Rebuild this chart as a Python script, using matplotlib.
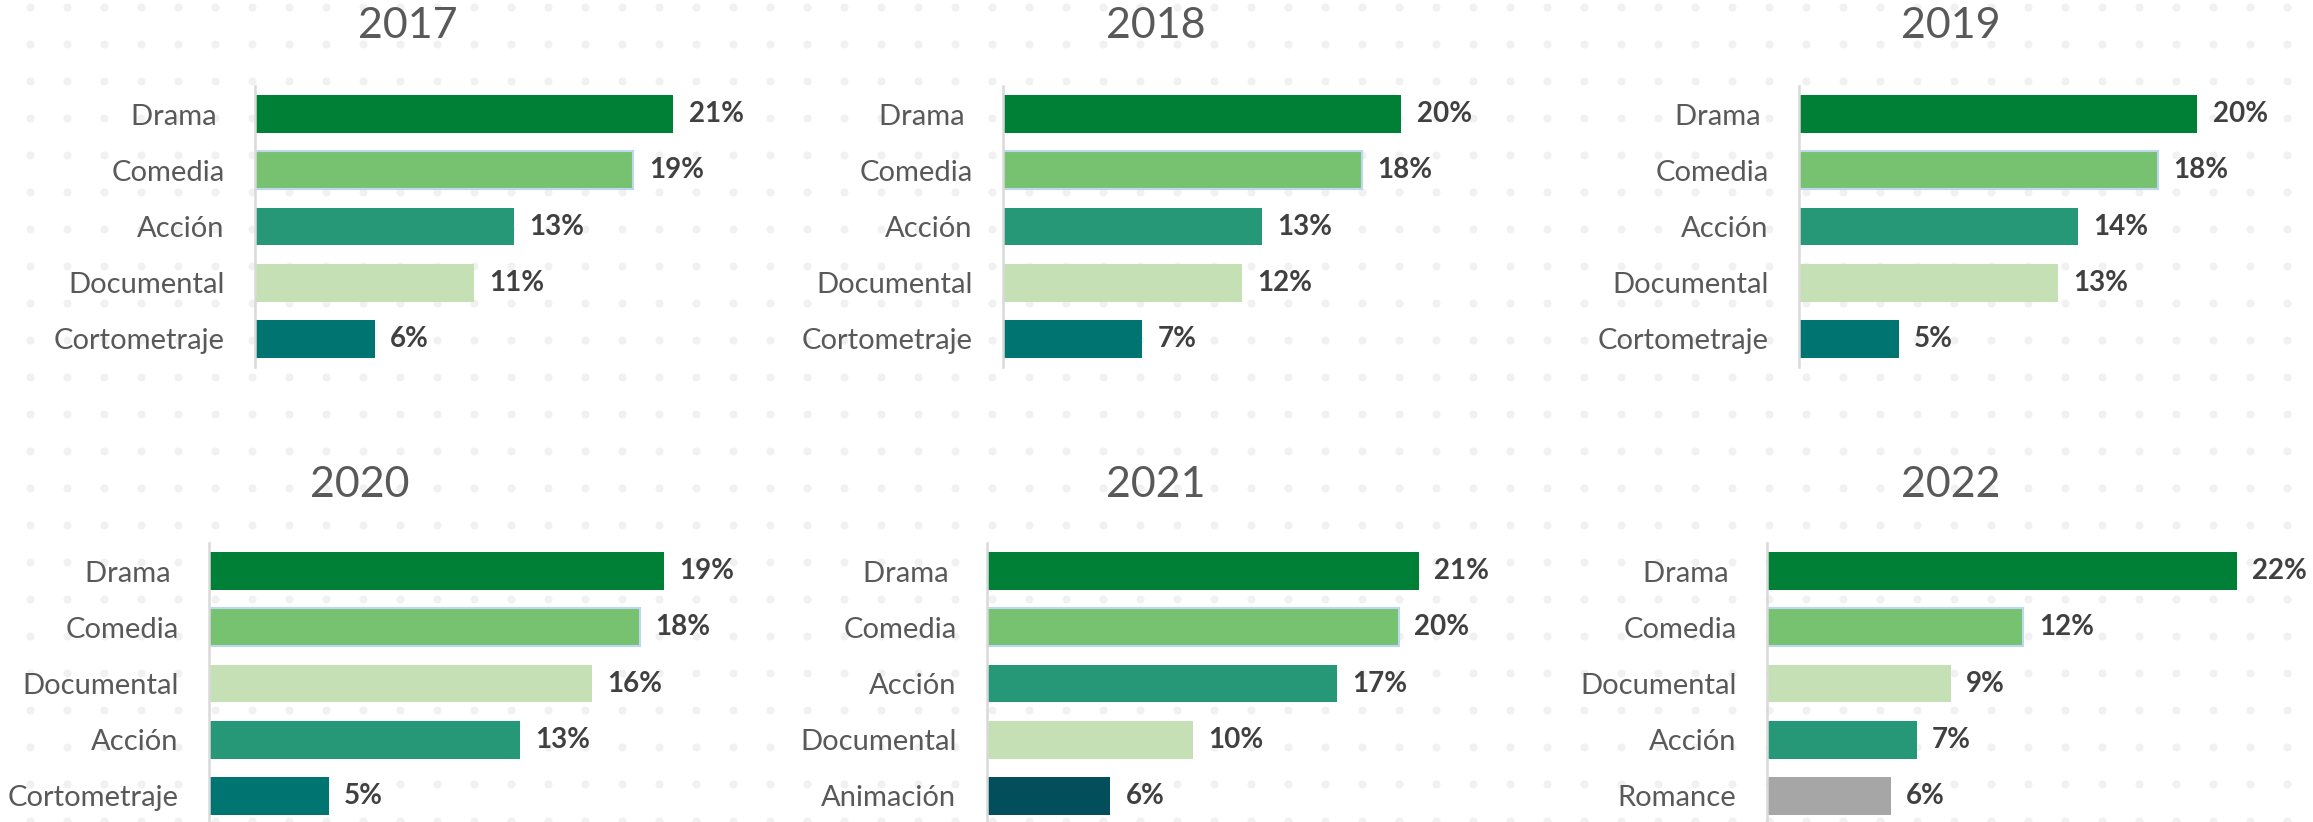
import matplotlib

matplotlib.use("Agg")
import matplotlib.pyplot as plt
import numpy as np

# Share of releases by genre, per year (percent).
YEARS = ["2017", "2018", "2019", "2020", "2021", "2022"]

CATS_2017 = ["Drama ", "Comedia", "Acción", "Documental", "Cortometraje"]
VALS_2017 = [21, 19, 13, 11, 6]

CATS_2018 = ["Drama ", "Comedia", "Acción", "Documental", "Cortometraje"]
VALS_2018 = [20, 18, 13, 12, 7]

CATS_2019 = ["Drama ", "Comedia", "Acción", "Documental", "Cortometraje"]
VALS_2019 = [20, 18, 14, 13, 5]

CATS_2020 = ["Drama ", "Comedia", "Documental", "Acción", "Cortometraje"]
VALS_2020 = [19, 18, 16, 13, 5]

CATS_2021 = ["Drama ", "Comedia", "Acción", "Documental", "Animación"]
VALS_2021 = [21, 20, 17, 10, 6]

CATS_2022 = ["Drama ", "Comedia", "Documental", "Acción", "Romance"]
VALS_2022 = [22, 12, 8.6, 7, 5.8]

GENRE_COLORS = {
    "Drama": "#007f37",
    "Comedia": "#77c270",
    "Acción": "#269878",
    "Documental": "#c5e0b4",
    "Cortometraje": "#007470",
    "Animación": "#024f5b",
    "Romance": "#a6a6a6",
}

# Panel layout in pixels: (axis x, axis top, x-axis max)
W, H = 2313, 822
PANEL_W = 500
LAYOUT = [
    (255, 86, 25.1), (1003, 86, 25.1), (1799, 86, 25.1),
    (209, 543, 20.9), (987, 543, 24.3), (1767, 543, 23.4),
]
TITLE_POS = [(408, 38), (1156, 38), (1951, 38), (360, 497), (1156, 497), (1951, 497)]
PANEL_H = 281

plt.rcParams["font.family"] = ["Lato", "DejaVu Sans"]

fig = plt.figure(figsize=(W / 100, H / 100), dpi=100)

# dotted background
bg = fig.add_axes([0, 0, 1, 1], zorder=-5)
bg.set_xlim(0, W)
bg.set_ylim(H, 0)
bg.axis("off")
gx, gy = np.meshgrid(np.arange(30, W, 37), np.arange(7, H, 37))
bg.scatter(gx.ravel(), gy.ravel(), s=34, color="#f1f1f1", linewidths=0)

panels = [
    (CATS_2017, VALS_2017), (CATS_2018, VALS_2018), (CATS_2019, VALS_2019),
    (CATS_2020, VALS_2020), (CATS_2021, VALS_2021), (CATS_2022, VALS_2022),
]

for year, (cats, vals), (x0, top, xmax), (tx, ty) in zip(YEARS, panels, LAYOUT, TITLE_POS):
    ax = fig.add_axes([x0 / W, 1 - (top + PANEL_H) / H, PANEL_W / W, PANEL_H / H])
    ax.patch.set_alpha(0)
    y = np.arange(len(cats))
    colors = [GENRE_COLORS[c.strip()] for c in cats]
    edges = ["#bdd7ee" if c.strip() == "Comedia" else col for c, col in zip(cats, colors)]
    widths = [1.5 if c.strip() == "Comedia" else 0 for c in cats]
    ax.barh(y, vals, height=0.675, color=colors, edgecolor=edges, linewidth=widths)
    for yi, v in zip(y, vals):
        ax.annotate(f"{v:.0f}%", (v, yi), xytext=(11, 0), textcoords="offset points",
                    va="center", ha="left", fontsize=20, fontweight="bold",
                    color="#404040", annotation_clip=False)
    ax.set_xlim(0, xmax)
    ax.set_ylim(len(cats) - 0.5, -0.5)
    ax.set_yticks(y)
    ax.set_yticklabels(cats, fontsize=21, color="#595959")
    ax.tick_params(axis="y", length=0, pad=22)
    ax.set_xticks([])
    for side in ["top", "right", "bottom"]:
        ax.spines[side].set_visible(False)
    ax.spines["left"].set_color("#d9d9d9")
    ax.spines["left"].set_linewidth(1.8)

    fig.text(tx / W, 1 - ty / H, year, ha="center", va="baseline",
             fontsize=31, color="#595959")

fig.savefig("out.png", dpi=100)
